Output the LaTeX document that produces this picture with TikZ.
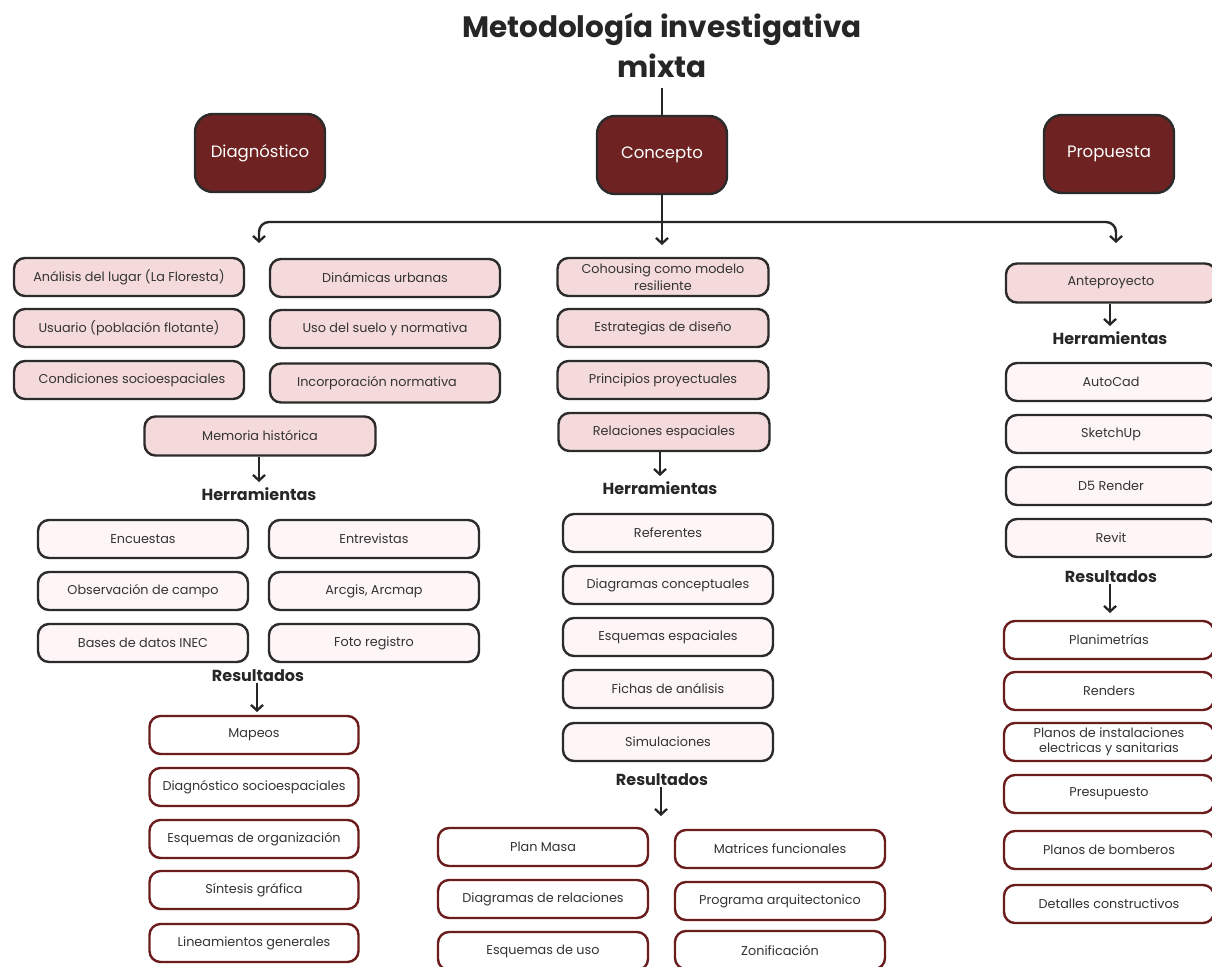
\documentclass[tikz,border=0pt]{standalone}
\usepackage{fontspec}
\setmainfont{Poppins}
\usetikzlibrary{arrows.meta}
\definecolor{maroon}{HTML}{6E2222}
\definecolor{pinkf}{HTML}{F5DADB}
\definecolor{toolf}{HTML}{FEF6F6}
\definecolor{edgec}{HTML}{2B2B2B}
\definecolor{resedge}{HTML}{6B1C1C}
\definecolor{txt}{HTML}{333333}
\tikzset{
  basebox/.style={rounded corners=11pt, line width=2.4pt, minimum height=38pt, minimum width=210pt, inner sep=0pt, align=center, font=\fontsize{12.8}{15}\selectfont, text=txt},
  topbox/.style={basebox, fill=maroon, draw=edgec, minimum width=130pt, minimum height=78pt, rounded corners=18pt, text=white, font=\fontsize{16.5}{18}\selectfont},
  pinkbox/.style={basebox, fill=pinkf, draw=edgec},
  toolbox/.style={basebox, fill=toolf, draw=edgec},
  resbox/.style={basebox, fill=white, draw=resedge},
  heading/.style={font=\fontsize{16}{18}\selectfont\bfseries, text=black!85, inner sep=1pt},
  conn/.style={line width=2.4pt, draw=black!85, -{Straight Barb[length=5.5pt,width=12pt,line width=2.3pt]}},
  plainline/.style={line width=2.4pt, draw=black!85}
}
\begin{document}
\begin{tikzpicture}[x=1pt,y=-1pt]
\clip (0,0) rectangle (1212,966);
\fill[white] (0,0) rectangle (1212,966);
% title
\node[font=\fontsize{29.5}{40}\selectfont\bfseries, text=black!85, align=center, inner sep=0pt] (title) at (662,45) {Metodología investigativa\\mixta};
% top boxes
\node[topbox] (diag) at (260,153) {Diagnóstico};
\node[topbox] (conc) at (662,155) {Concepto};
\node[topbox] (prop) at (1109,154) {Propuesta};
\draw[plainline] (662,88) -- (conc.north);
% branching
\coordinate (jc) at (662,222);
\coordinate (jl) at (259,243);
\coordinate (jr) at (1116,243);
\coordinate (jcend) at (662,245);
\draw[conn] (conc.south) -- (jcend);
\draw[conn, rounded corners=10pt] (jc) -| (jl);
\draw[conn, rounded corners=10pt] (jc) -| (jr);
% Diagnostico column
\node[pinkbox, minimum width=230pt] (d1) at (129,277) {Análisis del lugar (La Floresta)};
\node[pinkbox, minimum width=230pt] (d2) at (129,328) {Usuario (población flotante)};
\node[pinkbox, minimum width=230pt] (d3) at (129,380) {\hspace*{6pt}Condiciones socioespaciales};
\node[pinkbox, minimum width=230pt] (d4) at (385,278) {Dinámicas urbanas};
\node[pinkbox, minimum width=230pt] (d5) at (385,329) {Uso del suelo y normativa};
\node[pinkbox, minimum width=230pt, minimum height=39pt] (d6) at (385,383) {Incorporación normativa\hspace*{16pt}};
\node[pinkbox, minimum width=231pt, minimum height=39pt] (d7) at (260,436) {Memoria histórica};
\node[heading] (dh) at (259,494) {Herramientas};
\coordinate (dhend) at (259,482);
\draw[conn] (d7.south -| dhend) -- (dhend);
\node[toolbox] (dt1) at (143,539) {Encuestas};
\node[toolbox] (dt2) at (374,539) {Entrevistas};
\node[toolbox] (dt3) at (143,591) {Observación de campo};
\node[toolbox] (dt4) at (374,591) {Arcgis, Arcmap};
\node[toolbox] (dt5) at (143,643) {Bases de datos INEC};
\node[toolbox] (dt6) at (374,643) {Foto registro};
\node[heading] (dr) at (258,676) {Resultados};
\coordinate (drend) at (257,712);
\draw[conn] (dr.south -| drend) -- (drend);
\node[resbox, minimum width=209pt] (dr1) at (254,735) {Mapeos};
\node[resbox, minimum width=209pt] (dr2) at (254,787) {Diagnóstico socioespaciales};
\node[resbox, minimum width=209pt] (dr3) at (254,839) {Esquemas de organización};
\node[resbox, minimum width=209pt] (dr4) at (254,890) {Síntesis gráfica};
\node[resbox, minimum width=209pt] (dr5) at (254,943) {Lineamientos generales};
% Concepto column
\node[pinkbox, minimum width=211pt, font=\fontsize{12.8}{17}\selectfont] (c1) at (663,277) {Cohousing como modelo\\resiliente};
\node[pinkbox, minimum width=211pt] (c2) at (663,328) {Estrategias de diseño};
\node[pinkbox, minimum width=211pt] (c3) at (663,380) {Principios proyectuales};
\node[pinkbox, minimum width=211pt] (c4) at (664,432) {Relaciones espaciales};
\node[heading] (ch) at (660,488) {Herramientas};
\coordinate (chend) at (660,476);
\draw[conn] (c4.south -| chend) -- (chend);
\node[toolbox] (ct1) at (668,533) {Referentes};
\node[toolbox] (ct2) at (668,585) {Diagramas conceptuales};
\node[toolbox] (ct3) at (668,637) {Esquemas espaciales};
\node[toolbox] (ct4) at (668,689) {Fichas de análisis};
\node[toolbox] (ct5) at (668,742) {Simulaciones};
\node[heading] (cr) at (662,780) {Resultados};
\coordinate (crend) at (661,816);
\draw[conn] (cr.south -| crend) -- (crend);
\node[resbox] (cr1) at (543,847) {Plan Masa};
\node[resbox] (cr2) at (543,899) {Diagramas de relaciones};
\node[resbox] (cr3) at (543,951) {Esquemas de uso};
\node[resbox] (cr4) at (780,849) {Matrices funcionales};
\node[resbox] (cr5) at (780,901) {Programa arquitectonico};
\node[resbox] (cr6) at (780,950) {Zonificación};
% Propuesta column
\node[pinkbox, minimum height=39pt] (p1) at (1111,283) {Anteproyecto};
\node[heading] (ph) at (1110,338) {Herramientas};
\coordinate (phend) at (1110,326);
\draw[conn] (p1.south -| phend) -- (phend);
\node[toolbox] (pt1) at (1111,382) {AutoCad};
\node[toolbox] (pt2) at (1111,434) {SketchUp};
\node[toolbox] (pt3) at (1111,486) {D5 Render};
\node[toolbox] (pt4) at (1111,538) {Revit};
\node[heading] (pr) at (1111,577) {Resultados};
\coordinate (prend) at (1110,613);
\draw[conn] (pr.south -| prend) -- (prend);
\node[resbox] (pr1) at (1109,640) {Planimetrías};
\node[resbox] (pr2) at (1109,691) {Renders};
\node[resbox, font=\fontsize{12.8}{15}\selectfont] (pr3) at (1109,742) {Planos de instalaciones\\electricas y sanitarias};
\node[resbox] (pr4) at (1109,794) {Presupuesto};
\node[resbox] (pr5) at (1109,850) {Planos de bomberos};
\node[resbox] (pr6) at (1109,904) {Detalles constructivos};
\end{tikzpicture}
\end{document}
